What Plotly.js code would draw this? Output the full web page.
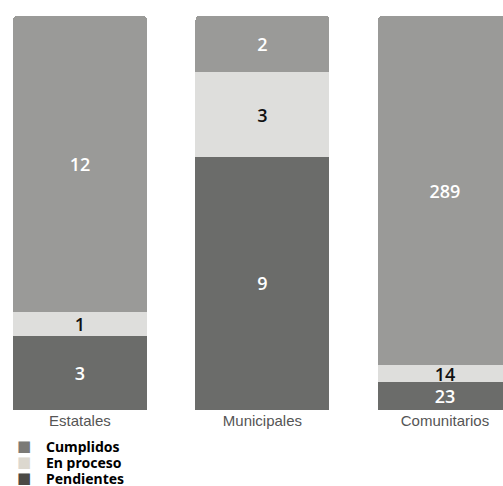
<!DOCTYPE html>
<html>
<head>
<meta charset="utf-8">
<script src="https://cdn.plot.ly/plotly-3.0.1.min.js"></script>
<style>html,body{margin:0;padding:0;background:#fff;overflow:hidden;}#chart{width:503px;height:486px;}</style>
</head>
<body>
<div id="chart"></div>
<script>
// ---- data ----
const categories = ["Estatales", "Municipales", "Comunitarios"];
const seriesNames = ["Cumplidos", "En proceso", "Pendientes"];
const cumplidos = [12, 2, 289];
const enProceso = [1, 3, 14];
const pendientes = [3, 9, 23];

// ---- styles ----
const barColors = ["#9a9a98", "#dededc", "#6b6c6a"];
const swatchColors = ["#7b7a76", "#dcd8cf", "#4b4a46"];
const textColors = ["#ffffff", "#111111", "#ffffff"];

const allSeries = [cumplidos, enProceso, pendientes];
const order = [2, 1, 0]; // bottom to top: Pendientes, En proceso, Cumplidos

const traces = order.map(i => {
  const vals = allSeries[i];
  return {
    type: "bar",
    name: seriesNames[i],
    x: categories,
    y: vals,
    text: vals.map(String),
    textposition: "inside",
    insidetextanchor: "middle",
    textangle: 0,
    constraintext: "none",
    cliponaxis: false,
    insidetextfont: {family: "Open Sans, sans-serif", size: 18, weight: 600, color: textColors[i]},
    marker: {color: barColors[i], line: {width: 0}},
    hoverinfo: "skip",
    showlegend: false
  };
});

// legend built as text annotations (tight spacing like the reference)
const W = 503, plotTop = 16, plotBottom = 410;
const H = plotBottom - plotTop;
const legendRows = [446, 462, 478];
const annotations = [];
seriesNames.forEach((n, i) => {
  const yy = (plotBottom - legendRows[i]) / H;
  annotations.push({
    xref: "paper", yref: "paper", x: 24 / W, y: yy, xanchor: "center", yanchor: "middle",
    text: "■", showarrow: false,
    font: {family: "DejaVu Sans", size: 15, color: swatchColors[i]}
  });
  annotations.push({
    xref: "paper", yref: "paper", x: 44 / W, y: yy, xanchor: "left", yanchor: "middle",
    text: n, showarrow: false,
    font: {family: "Noto Sans, sans-serif", size: 14, weight: 700, color: "#000"}
  });
});

const layout = {
  width: 503, height: 486,
  margin: {l: 0, r: 0, t: plotTop, b: 486 - plotBottom, pad: 0},
  paper_bgcolor: "#ffffff", plot_bgcolor: "#ffffff",
  barmode: "stack", barnorm: "fraction",
  bargap: 0.266,
  barcornerradius: 4,
  xaxis: {
    type: "category", range: [-0.438, 2.318],
    showgrid: false, zeroline: false, showline: false, ticks: "",
    tickfont: {family: "Liberation Sans, Arial, sans-serif", size: 15, color: "#555555"},
    fixedrange: true
  },
  yaxis: {range: [0, 1], visible: false, fixedrange: true},
  showlegend: false,
  annotations: annotations
};

Plotly.newPlot("chart", traces, layout, {displayModeBar: false, staticPlot: true});
</script>
</body>
</html>
